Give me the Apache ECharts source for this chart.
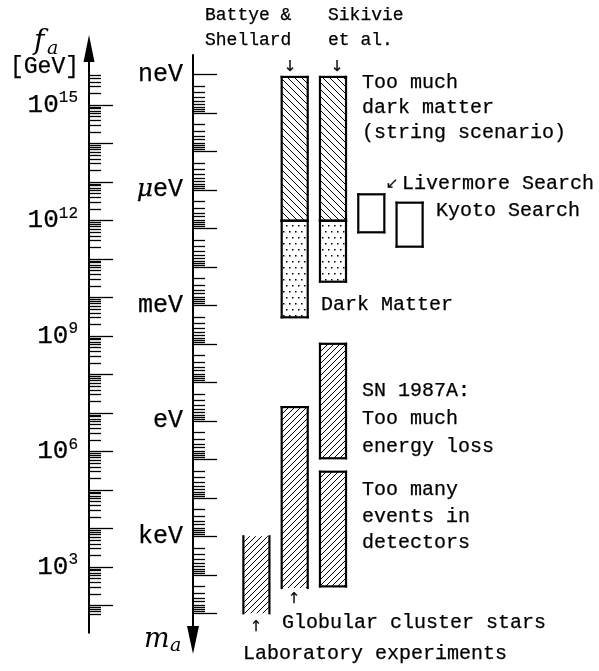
<!DOCTYPE html>
<html>
<head>
<meta charset="utf-8">
<title>Axion bounds</title>
<script src="https://cdn.jsdelivr.net/npm/echarts@6/dist/echarts.min.js"></script>
<style>
  html, body { margin: 0; padding: 0; background: #fff; }
  #chart { width: 599px; height: 671px; }
</style>
</head>
<body>
<div id="chart"></div>
<script>
// columns of the plot (left to right)
var columns = ['lab', 'globular', 'sn', 'livermore', 'kyoto'];

// excluded / searched ranges, axion mass in eV (low mass = top of plot)
var barNames = ['Laboratory experiments', 'Globular cluster stars', 'SN 1987A: energy loss',
  'SN 1987A: events', 'Battye & Shellard string', 'Battye & Shellard DM',
  'Sikivie string', 'Sikivie DM', 'Livermore Search', 'Kyoto Search'];
var barColumn = [0, 1, 2, 2, 1, 1, 2, 2, 3, 4];
var barLow = [1.0e3, 0.44, 1.0e-2, 21, 1.17e-9, 6.35e-6, 1.17e-9, 6.35e-6, 1.31e-6, 2.16e-6];
var barHigh = [1.0e5, 2.2e4, 9.4, 2.0e4, 6.35e-6, 2.05e-3, 6.35e-6, 2.44e-4, 1.27e-5, 3.0e-5];
var barFill = ['/', '/', '/', '/', '\\', '.', '\\', '.', '', ''];
var barEdges = ['lr', 'lrt', 'lrtb', 'lrtb', 'lrtb', 'lrtb', 'lrtb', 'lrtb', 'lrtb', 'lrtb'];

// axis labels
var faLabelExp = [3, 6, 9, 12, 15];
var maLabelExp = [-9, -6, -3, 0, 3];
var maLabelText = ['neV', '{mu|\u03bc}eV', 'meV', 'eV', 'keV'];

// tick ranges
var faTickMin = 60, faTickMax = 6e15;      // GeV
var maTickMin = 1e-9, maTickMax = 1e5;     // eV

var PX = 38.5;      // pixels per decade
var NEV_Y = 74.3;   // row of the 1 neV tick
var FA15_Y = 105;   // row of the 10^15 GeV tick
function maAt(y) { return -9 + (y - NEV_Y) / PX; }
function faAt(y) { return 15 - (y - FA15_Y) / PX; }

function logTicks(lo, hi) {
  var major = [], minor = [];
  var a = Math.log10(lo) - 1e-6, b = Math.log10(hi) + 1e-6;
  for (var n = Math.floor(a); n <= Math.ceil(b); n++) {
    for (var k = 1; k <= 9; k++) {
      var v = n + Math.log10(k);
      if (v < a || v > b) continue;
      if (k === 1) major.push(v); else minor.push(v);
    }
  }
  return { major: major, minor: minor };
}
var faTicks = logTicks(faTickMin, faTickMax);
var maTicks = logTicks(maTickMin, maTickMax);
function neg(v) { return -v; }

function hatch(size, dir) {
  var cv = document.createElement('canvas');
  cv.width = size; cv.height = size;
  var g = cv.getContext('2d');
  g.strokeStyle = '#000';
  g.lineWidth = 1;
  g.beginPath();
  for (var k = -1; k <= 1; k++) {
    if (dir > 0) { g.moveTo(k * size, size); g.lineTo(k * size + size, 0); }
    else { g.moveTo(k * size, 0); g.lineTo(k * size + size, size); }
  }
  g.stroke();
  return cv;
}
function dots() {
  var cv = document.createElement('canvas');
  cv.width = 6; cv.height = 12;
  var g = cv.getContext('2d');
  g.fillStyle = '#000';
  g.fillRect(1, 3, 1.5, 1.5);
  g.fillRect(4, 9, 1.5, 1.5);
  return cv;
}
var patterns = {
  '/': { image: hatch(6, 1), repeat: 'repeat' },
  '\\': { image: hatch(7, -1), repeat: 'repeat' },
  '.': { image: dots(), repeat: 'repeat' }
};

var barData = barNames.map(function (n, i) {
  return [barColumn[i], Math.log10(barLow[i]), Math.log10(barHigh[i]), i];
});

function renderBar(params, api) {
  var i = api.value(3);
  var p = api.coord([api.value(0), api.value(1)]);
  var q = api.coord([api.value(0), api.value(2)]);
  var w = api.size([1, 0])[0] * 0.68;
  var x0 = p[0] - w / 2, x1 = p[0] + w / 2;
  var y0 = Math.min(p[1], q[1]), y1 = Math.max(p[1], q[1]);
  var kids = [{
    type: 'rect',
    shape: { x: x0, y: y0, width: w, height: y1 - y0 },
    style: { fill: patterns[barFill[i]] || '#fff' }
  }];
  var e = barEdges[i];
  var seg = { l: [x0, y0, x0, y1], r: [x1, y0, x1, y1], t: [x0, y0, x1, y0], b: [x0, y1, x1, y1] };
  e.split('').forEach(function (s) {
    var c = seg[s];
    kids.push({
      type: 'line',
      shape: { x1: c[0], y1: c[1], x2: c[2], y2: c[3] },
      style: { stroke: '#000', lineWidth: 2.2, lineCap: 'square' }
    });
  });
  return { type: 'group', children: kids };
}

var mono = '"Liberation Mono", "DejaVu Sans Mono", monospace';
function note(x, y, text, size, align, font) {
  return {
    type: 'text', x: x, y: y,
    style: {
      text: text, fill: '#000', font: size + 'px ' + (font || mono),
      stroke: '#000', lineWidth: 0.25,
      align: align || 'left', verticalAlign: 'middle',
      textAlign: align || 'left', textVerticalAlign: 'middle'
    }
  };
}
function ital(x, y, text, size) {
  return {
    type: 'text', x: x, y: y,
    style: {
      text: text, fill: '#000', font: 'italic ' + size + 'px "DejaVu Serif", serif',
      align: 'left', verticalAlign: 'middle', textAlign: 'left', textVerticalAlign: 'middle'
    }
  };
}
var arrowFont = '"DejaVu Sans", sans-serif';

var axisTop = { fa: 48.5, ma: 55 };
var axisBottom = { fa: 632.7, ma: 640 };

function tickAxis(grid, lo, hi, ticks, len, arrow) {
  return {
    type: 'value', gridIndex: grid, min: lo, max: hi,
    position: 'left',
    axisLine: arrow ? {
      show: true, symbol: arrow, symbolSize: [11, 27],
      lineStyle: { color: '#000', width: 2 }
    } : { show: false },
    axisTick: { show: true, inside: true, length: len, customValues: ticks,
      lineStyle: { color: '#000', width: 1.3 } },
    axisLabel: { show: false },
    splitLine: { show: false }
  };
}

// f_a axis: value = log10(fa / GeV), arrow at the top
var faMajor = tickAxis(1, faAt(axisBottom.fa), faAt(axisTop.fa), faTicks.major, 24, ['none', 'triangle']);
faMajor.axisLabel = {
  show: true, customValues: faLabelExp, margin: 11, color: '#000',
  formatter: function (v) { return '{b|10}{s|' + Math.round(v) + '}'; },
  rich: {
    b: { fontFamily: mono, fontSize: 26, color: '#000', textBorderColor: '#000', textBorderWidth: 0.25 },
    s: { fontFamily: mono, fontSize: 16, color: '#000', verticalAlign: 'top', padding: [0, 0, 14, 0],
      textBorderColor: '#000', textBorderWidth: 0.2 }
  }
};
var faMinor = tickAxis(1, faAt(axisBottom.fa), faAt(axisTop.fa), faTicks.minor, 12, null);

// m_a axis: value = -log10(ma / eV), so mass grows downwards, arrow at the bottom
var maMajor = tickAxis(2, -maAt(axisBottom.ma), -maAt(axisTop.ma), maTicks.major.map(neg), 24, ['triangle', 'none']);
maMajor.axisLine.symbolSize = [12, 28];
maMajor.axisLabel = {
  show: true, customValues: maLabelExp.map(neg), margin: 10, color: '#000',
  formatter: function (v) { return maLabelText[maLabelExp.indexOf(Math.round(-v))]; },
  fontFamily: mono, fontSize: 25, textBorderColor: '#000', textBorderWidth: 0.25,
  rich: { mu: { fontFamily: '"DejaVu Serif", serif', fontStyle: 'italic', fontSize: 25, color: '#000' } }
};
var maMinor = tickAxis(2, -maAt(axisBottom.ma), -maAt(axisTop.ma), maTicks.minor.map(neg), 12, null);

var chart = echarts.init(document.getElementById('chart'), null, { renderer: 'canvas' });
chart.setOption({
  animation: false,
  backgroundColor: '#fff',
  grid: [
    { left: 237.25, width: 191.5, top: 20, height: 640 },
    { left: 89, width: 10, top: axisTop.fa, height: axisBottom.fa - axisTop.fa },
    { left: 193, width: 10, top: axisTop.ma, height: axisBottom.ma - axisTop.ma }
  ],
  xAxis: [
    { type: 'category', gridIndex: 0, data: columns, show: false },
    { type: 'value', gridIndex: 1, show: false },
    { type: 'value', gridIndex: 2, show: false }
  ],
  yAxis: [
    { type: 'value', gridIndex: 0, inverse: true, min: maAt(20), max: maAt(660), show: false },
    faMajor, faMinor, maMajor, maMinor
  ],
  series: [{
    type: 'custom', xAxisIndex: 0, yAxisIndex: 0,
    renderItem: renderBar, data: barData, silent: true
  }],
  graphic: [
    ital(34, 42, 'f', 28), ital(47, 49, 'a', 19),
    note(79, 67, '[GeV]', 23, 'right'),
    ital(144, 640, 'm', 27), ital(170, 646, 'a', 19),
    note(205, 15, 'Battye &', 18), note(205, 40, 'Shellard', 18),
    note(328, 15, 'Sikivie', 18), note(328, 40, 'et al.', 18),
    note(290, 67, '\u2193', 15, 'center', arrowFont), note(337, 67, '\u2193', 15, 'center', arrowFont),
    note(362, 83, 'Too much', 20), note(362, 108, 'dark matter', 20),
    note(362, 133, '(string scenario)', 20),
    note(392, 184, '\u2199', 15, 'center', arrowFont), note(402, 184, 'Livermore Search', 20),
    note(436, 211, 'Kyoto Search', 20),
    note(321, 305, 'Dark Matter', 20),
    note(362, 391, 'SN 1987A:', 20), note(362, 419, 'Too much', 20), note(362, 447, 'energy loss', 20),
    note(362, 490, 'Too many', 20), note(362, 517, 'events in', 20), note(362, 543, 'detectors', 20),
    note(294, 599, '\u2191', 15, 'center', arrowFont), note(282, 623, 'Globular cluster stars', 20),
    note(256, 627, '\u2191', 15, 'center', arrowFont), note(243, 654, 'Laboratory experiments', 20)
  ]
});
</script>
</body>
</html>
